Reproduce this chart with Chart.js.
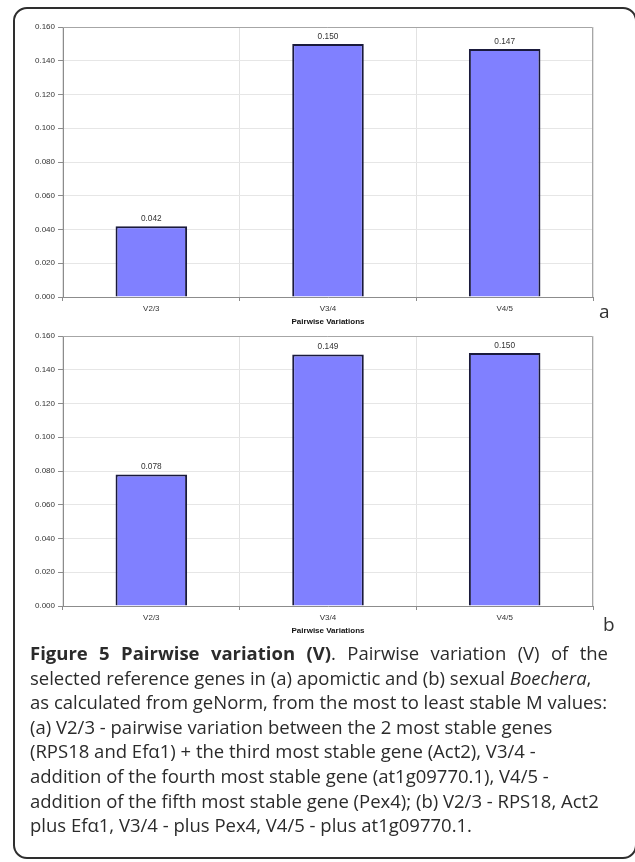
<!DOCTYPE html>
<html>
<head>
<meta charset="utf-8">
<script src="https://cdn.jsdelivr.net/npm/chart.js@4/dist/chart.umd.min.js"></script>
<style>
  html, body { margin: 0; padding: 0; background: #fff; width: 635px; height: 862px; overflow: hidden; }
  #frame { position: absolute; left: 13px; top: 7px; width: 624px; height: 852px;
           border: 2px solid #2e2e2e; border-radius: 14px; box-sizing: border-box; }
  .panel { position: absolute; left: 20px; width: 580px; height: 312px; }
  .panel canvas { display: block; }
  .tag { position: absolute; font-family: "Open Sans", sans-serif; font-size: 19px;
         line-height: 24px; color: #333; }
  #caption { position: absolute; left: 30px; top: 641px; width: 580px;
             font-family: "Open Sans", sans-serif; font-size: 18.5px; line-height: 24.6px;
             color: #2b2b2b; }
  #caption div { white-space: nowrap; }
  #caption .just { text-align: justify; text-align-last: justify; width: 578px; }
</style>
</head>
<body>
<div id="frame"></div>

<div class="panel" style="top:17px"><canvas id="chartA" width="580" height="312"></canvas></div>
<div class="tag" style="left:599px; top:299px">a</div>

<div class="panel" style="top:326px"><canvas id="chartB" width="580" height="312"></canvas></div>
<div class="tag" style="left:603px; top:612px">b</div>

<div id="caption">
  <div class="just"><b>Figure 5 Pairwise variation (V)</b>. Pairwise variation (V) of the</div>
  <div>selected reference genes in (a) apomictic and (b) sexual <i>Boechera</i>,</div>
  <div>as calculated from geNorm, from the most to least stable M values:</div>
  <div>(a) V2/3 - pairwise variation between the 2 most stable genes</div>
  <div>(RPS18 and Ef&alpha;1) + the third most stable gene (Act2), V3/4 -</div>
  <div>addition of the fourth most stable gene (at1g09770.1), V4/5 -</div>
  <div>addition of the fifth most stable gene (Pex4); (b) V2/3 - RPS18, Act2</div>
  <div>plus Ef&alpha;1, V3/4 - plus Pex4, V4/5 - plus at1g09770.1.</div>
</div>

<script>
// Pairwise variation steps (x axis)
const categories = ['V2/3', 'V3/4', 'V4/5'];
// (a) apomictic Boechera
const valuesApomictic = [0.042, 0.150, 0.147];
// (b) sexual Boechera
const valuesSexual = [0.078, 0.149, 0.150];
// y axis tick values
const yTickValues = [0.000, 0.020, 0.040, 0.060, 0.080, 0.100, 0.120, 0.140, 0.160];
const xAxisTitle = 'Pairwise Variations';

const AXIS_FONT = '"Liberation Sans", Arial, sans-serif';

// Prints each bar's value above it
const valueLabels = {
  id: 'valueLabels',
  afterDatasetsDraw(chart) {
    const ctx = chart.ctx;
    ctx.save();
    ctx.font = '8.3px ' + AXIS_FONT;
    ctx.fillStyle = '#333';
    ctx.textAlign = 'center';
    ctx.textBaseline = 'middle';
    chart.data.datasets.forEach((ds, di) => {
      chart.getDatasetMeta(di).data.forEach((bar, i) => {
        ctx.fillText(ds.data[i].toFixed(3), bar.x, bar.y - 7.5);
      });
    });
    ctx.restore();
  }
};

// Darker top and right edges of the plot frame
const plotFrame = {
  id: 'plotFrame',
  afterDraw(chart) {
    const a = chart.chartArea, ctx = chart.ctx;
    ctx.save();
    ctx.strokeStyle = '#a6a6a6';
    ctx.lineWidth = 1;
    ctx.beginPath();
    ctx.moveTo(a.left, a.top + 0.5);
    ctx.lineTo(a.right - 0.5, a.top + 0.5);
    ctx.lineTo(a.right - 0.5, a.bottom);
    ctx.stroke();
    ctx.restore();
  }
};

function makeChart(id, values) {
  return new Chart(document.getElementById(id), {
    type: 'bar',
    data: {
      labels: categories,
      datasets: [{
        data: values,
        backgroundColor: '#8080ff',
        borderColor: '#1a1a3c',
        borderWidth: 2,
        barPercentage: 0.405,
        categoryPercentage: 1.0
      }]
    },
    options: {
      responsive: false,
      animation: false,
      devicePixelRatio: 1,
      layout: { padding: { top: 10, right: 7, bottom: 0, left: 0 } },
      plugins: { legend: { display: false }, tooltip: { enabled: false } },
      scales: {
        x: {
          offset: true,
          grid: { offset: true, color: '#e2e2e2', tickColor: '#8c8c8c', tickLength: 4 },
          border: { color: '#8c8c8c', width: 1 },
          ticks: { color: '#333', padding: 3, font: { family: AXIS_FONT, size: 8 } },
          title: {
            display: true, text: xAxisTitle, color: '#111',
            font: { family: AXIS_FONT, size: 8, weight: 'bold' },
            padding: { top: 0, bottom: 2 }
          },
          afterFit(scale) { scale.height = 32; }
        },
        y: {
          min: 0,
          max: 0.16,
          afterBuildTicks(scale) { scale.ticks = yTickValues.map(v => ({ value: v })); },
          grid: { color: '#e6e6e6', tickColor: '#8c8c8c', tickLength: 5 },
          border: { color: '#8c8c8c', width: 1 },
          ticks: {
            color: '#333', padding: 3, font: { family: AXIS_FONT, size: 8 },
            callback: v => Number(v).toFixed(3)
          },
          afterFit(scale) { scale.width = 43; }
        }
      }
    },
    plugins: [valueLabels, plotFrame]
  });
}

makeChart('chartA', valuesApomictic);
makeChart('chartB', valuesSexual);
</script>
</body>
</html>
